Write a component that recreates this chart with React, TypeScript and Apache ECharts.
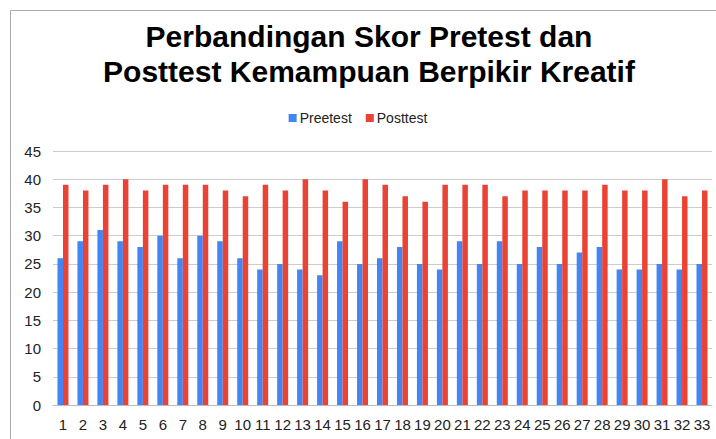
import React, { useEffect, useRef } from "react";
import * as echarts from "echarts";

const categories = Array.from({ length: 33 }, (_, i) => String(i + 1));
const pretest = [26, 29, 31, 29, 28, 30, 26, 30, 29, 26, 24, 25, 24, 23, 29, 25, 26, 28, 25, 24, 29, 25, 29, 25, 28, 25, 27, 28, 24, 24, 25, 24, 25];
const posttest = [39, 38, 39, 40, 38, 39, 39, 39, 38, 37, 39, 38, 40, 38, 36, 40, 39, 37, 36, 39, 39, 39, 37, 38, 38, 38, 38, 39, 38, 38, 40, 37, 38];
const seriesNames = ["Preetest", "Posttest"];
const titleText = "Perbandingan Skor Pretest dan\nPosttest Kemampuan Berpikir Kreatif";

export default function App() {
  const ref = useRef<HTMLDivElement>(null);
  useEffect(() => {
    if (!ref.current) return;
    const chart = echarts.init(ref.current, undefined, { renderer: "svg" });
    const font = "'Liberation Sans', Arial, sans-serif";
    chart.setOption({
      animation: false,
      backgroundColor: "#ffffff",
      textStyle: { fontFamily: font },
      title: {
        text: titleText,
        left: 364,
        textAlign: "center",
        top: 14,
        textStyle: { fontSize: 30, fontWeight: "bold", color: "#000", lineHeight: 35, fontFamily: font },
      },
      legend: {
        top: 106,
        left: "center",
        itemWidth: 8,
        itemHeight: 8,
        itemGap: 14,
        icon: "rect",
        textStyle: { fontSize: 14, color: "#222", fontFamily: font, padding: [0, 0, 0, -2] },
        data: seriesNames,
      },
      graphic: [
        {
          type: "rect",
          shape: { x: 10.5, y: 10.5, width: 720, height: 440 },
          style: { fill: "none", stroke: "#aaaaaa", lineWidth: 1 },
          silent: true,
        },
      ],
      grid: { left: 53, right: 4, top: 151, bottom: 34, containLabel: false },
      xAxis: {
        type: "category",
        data: categories,
        axisLine: { show: true, lineStyle: { color: "#bbbbbb", width: 1 } },
        axisTick: { show: false },
        axisLabel: { interval: 0, fontSize: 15, color: "#222", margin: 12, fontFamily: font },
      },
      yAxis: {
        type: "value",
        min: 0,
        max: 45,
        interval: 5,
        axisLine: { show: false },
        axisTick: { show: false },
        axisLabel: { fontSize: 15, color: "#222", margin: 12, fontFamily: font },
        splitLine: { lineStyle: { color: "#cccccc", width: 1 } },
      },
      series: [
        {
          name: seriesNames[0],
          type: "bar",
          data: pretest,
          barWidth: 5.5,
          barGap: "0%",
          itemStyle: { color: "#4285f4" },
        },
        {
          name: seriesNames[1],
          type: "bar",
          data: posttest,
          barWidth: 5.5,
          barGap: "0%",
          itemStyle: { color: "#ea4335" },
        },
      ],
    });
    return () => chart.dispose();
  }, []);
  return <div ref={ref} style={{ width: 716, height: 439, position: "fixed", left: 0, top: 0 }} />;
}
